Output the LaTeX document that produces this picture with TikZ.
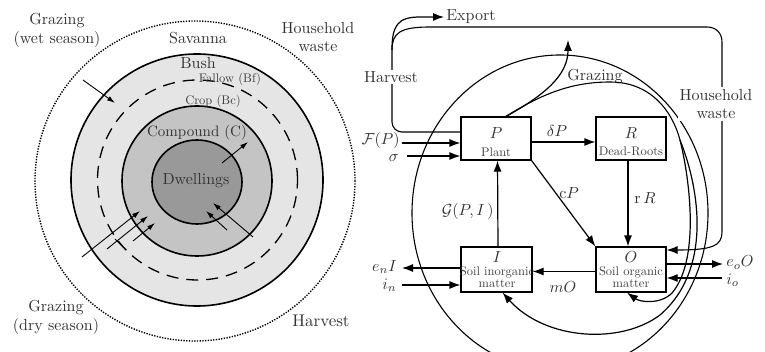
\documentclass[tikz,border=0pt]{standalone}
\usetikzlibrary{arrows.meta}
\begin{document}
\begin{tikzpicture}[x=1pt,y=1pt,
 lab/.style={font=\fontsize{10}{11.8}\selectfont,scale=1.6,text=black!80,align=center,inner sep=0pt},
 sml/.style={font=\fontsize{10}{11}\selectfont,scale=1.25,text=black!75,inner sep=0pt},
 arr/.style={line width=1.2pt,-{Latex[length=11pt,width=8pt]}},
 larr/.style={line width=0.9pt,-{Latex[length=8pt,width=5pt]}},
 box/.style={draw,line width=1.2pt,minimum width=70pt,minimum height=43pt,inner sep=0pt},
 curve/.style={line width=1.1pt}]
\useasboundingbox (0,0) rectangle (765,-352);
% ---------------- left diagram ----------------
\draw[line width=1.4pt,dash pattern=on 1.3pt off 1.4pt] (195,-181) circle (160);
\filldraw[fill=black!10,line width=1.6pt] (197,-180) circle (126);
\draw[line width=1.3pt,dash pattern=on 12pt off 8pt] (197.5,-180) circle (100);
\filldraw[fill=black!23,line width=1.6pt] (197,-181) circle (75);
\filldraw[fill=black!40,line width=1.6pt] (197,-182) ellipse (45 and 42);

\node[lab] (gw) at (57,-30) {Grazing\\(wet season)};
\node[lab] (sav) at (198,-38) {Savanna};
\node[lab] (hw1) at (318,-37) {Household\\waste};
\node[lab] (bush) at (198,-63) {Bush};
\node[sml] (fal) at (230,-79) {Fallow (Bf)};
\node[sml] (crop) at (213,-101) {Crop (Bc)};
\node[lab,scale=0.94] (comp) at (197,-133) {Compound (C)};
\node[lab] (dw) at (196,-181) {Dwellings};
\node[lab] (gd) at (56,-317) {Grazing\\(dry season)};
\node[lab,scale=1.06] (hv1) at (321,-321) {Harvest};

\coordinate (w1) at (83,-80); \coordinate (w2) at (115,-103);
\draw[larr] (w1) -- (w2);
\coordinate (o1) at (222,-163); \coordinate (o2) at (248,-142);
\draw[larr] (o1) -- (o2);
\coordinate (i1) at (227,-230); \coordinate (i2) at (206,-211);
\draw[larr] (i1) -- (i2);
\coordinate (i3) at (253,-237); \coordinate (i4) at (213,-203);
\draw[larr] (i3) -- (i4);
\coordinate (d1) at (82,-257); \coordinate (d2) at (140,-211);
\draw[larr] (d1) -- (d2);
\coordinate (d3) at (107,-249); \coordinate (d4) at (148,-216);
\draw[larr] (d3) -- (d4);
\coordinate (d5) at (133,-241); \coordinate (d6) at (155,-223);
\draw[larr] (d5) -- (d6);
\coordinate (t1) at (115,-239); \coordinate (t2) at (125,-249);
\draw[line width=0.9pt] (t1) -- (t2);

% ---------------- right diagram ----------------
\draw[curve] (560,-213) ellipse (148 and 158);

\node[box] (P) at (496,-138.5) {};
\node[box] (R) at (631,-138.5) {};
\node[box,minimum width=71pt,minimum height=45pt] (I) at (496.5,-269.5) {};
\node[box,minimum height=45pt] (O) at (631,-269.5) {};

\node[lab] (Pl) at (496,-133) {$P$};
\node[sml] (Pt) at (496,-152) {Plant};
\node[lab] (Rl) at (631,-133) {$R$};
\node[sml] (Rt) at (631,-151) {Dead-Roots};
\node[lab] (Il) at (497,-257) {$I$};
\node[sml] (It1) at (497,-272) {Soil inorganic};
\node[sml] (It2) at (497,-284) {matter};
\node[lab] (Ol) at (631,-257) {$O$};
\node[sml] (Ot1) at (631,-272) {Soil organic};
\node[sml] (Ot2) at (631,-284) {matter};

% inputs to P
\coordinate (fpS) at (402,-143);
\draw[arr] (fpS) -- ([yshift=-4.5pt]P.west);
\coordinate (sgS) at (407,-156);
\draw[arr] (sgS) -- ([yshift=-17.5pt]P.west);
\node[lab,anchor=east] (lfp) at (400,-141) {$\mathcal{F}(P)$};
\node[lab,anchor=east] (lsg) at (399,-158) {$\sigma$};

% internal flows
\draw[arr] ([yshift=-3.5pt]P.east) -- ([yshift=-3.5pt]R.west);
\node[lab] (ldp) at (557,-131) {$\delta P$};
\draw[arr] (P.south east) -- (O.north west);
\node[lab,anchor=west] (lcp) at (559,-193) {${\rm c}P$};
\draw[arr] ([xshift=-3pt]R.south) -- ([xshift=-3pt]O.north);
\node[lab,anchor=west] (lrr) at (634,-198) {${\rm r}\,R$};
\draw[arr] ([xshift=1.5pt]I.north) -- ([xshift=1.5pt]P.south);
\node[lab,anchor=east] (lg) at (494,-212) {$\mathcal{G}(P,I\,)$};
\draw[arr] ([yshift=-2pt]O.west) -- ([yshift=-2pt]I.east);
\node[lab] (lmo) at (563,-287) {$mO$};

% I inputs/outputs
\coordinate (enE) at (402,-268);
\draw[arr] ([yshift=1.5pt]I.west) -- (enE);
\coordinate (inS) at (402,-285);
\draw[arr] (inS) -- ([yshift=-15.5pt]I.west);
\node[lab,anchor=east] (len) at (397,-267) {$e_nI$};
\node[lab,anchor=east] (lin) at (397,-285) {$i_n$};

% O inputs/outputs
\coordinate (eoE) at (723,-264);
\draw[arr] ([yshift=5.5pt]O.east) -- (eoE);
\coordinate (ioS) at (722,-278);
\draw[arr] (ioS) -- ([yshift=-8.5pt]O.east);
\node[lab,anchor=west] (leo) at (726,-262.5) {$e_oO$};
\node[lab,anchor=west] (lio) at (726,-280) {$i_o$};

% harvest / export / household waste
\coordinate (hs) at (392,-50);
\draw[curve,rounded corners=10pt] ([yshift=6.5pt]P.west) -- (392,-132) -- (hs);
\coordinate (exE) at (444,-17);
\draw[arr] (hs) .. controls (392,-25) and (398,-17) .. (420,-17) -- (exE);
\draw[curve,-{Latex[length=11pt,width=8pt]}] (hs) .. controls (392,-33) and (400,-27) .. (430,-27)
   -- (707,-27) .. controls (716,-27) and (722,-33) .. (722,-42)
   -- (722,-232) .. controls (722,-246) and (712,-250) .. ([yshift=19.5pt]O.east);
\node[lab,anchor=west] (lex) at (446,-17) {Export};
\node[lab,fill=white,inner sep=1pt] (lhv) at (391,-77) {Harvest};
\node[lab,fill=white,inner sep=1pt] (lhw) at (716,-104) {Household\\waste};

% grazing
\coordinate (gs) at (505,-117);
\coordinate (gE) at (568,-40);
\draw[arr] (gs) .. controls (545,-95) and (568,-75) .. (gE);
\node[lab,anchor=west] (lgz) at (567,-77) {Grazing};
\coordinate (sp) at (680,-140);
\draw[curve] (gs) .. controls (540,-95) and (570,-82) .. (610,-82)
   .. controls (650,-82) and (672,-110) .. (sp);
\draw[arr] (sp) .. controls (690,-180) and (700,-260) .. (672,-293)
   .. controls (660,-305) and (640,-302) .. ([xshift=-4pt]O.south);
\draw[arr] (sp) .. controls (700,-190) and (712,-270) .. (660,-315)
   .. controls (620,-345) and (545,-340) .. ([xshift=6pt]I.south);
\end{tikzpicture}
\end{document}
